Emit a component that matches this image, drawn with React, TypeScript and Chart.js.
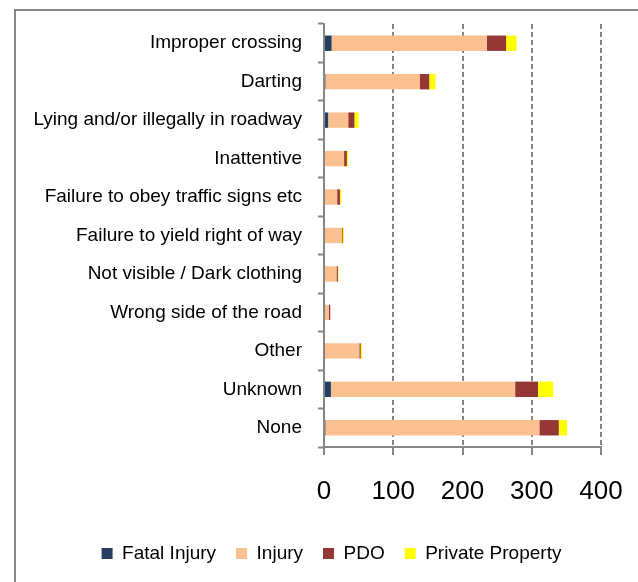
import React, { useEffect, useRef } from "react";
import { Chart, registerables } from "chart.js";

Chart.register(...registerables);

const categories = [
  "Improper crossing",
  "Darting",
  "Lying and/or illegally in roadway",
  "Inattentive",
  "Failure to obey traffic signs etc",
  "Failure to yield right of way",
  "Not visible / Dark clothing",
  "Wrong side of the road",
  "Other",
  "Unknown",
  "None",
];
const fatalInjury = [11, 2, 6, 0, 0, 0, 0, 0, 1, 10, 2];
const injury = [224, 136, 29, 29, 19, 26, 18, 7, 50, 266, 309];
const pdo = [28, 14, 9, 4, 4, 1, 2, 2, 2, 33, 28];
const privateProperty = [15, 9, 6, 2, 2, 2, 1, 0, 2, 22, 12];
const xTicks = [0, 100, 200, 300, 400];

const GRAY = "#868686";
const FONT = "'Liberation Sans', Arial, sans-serif";

const framePlugin = {
  id: "frame",
  beforeDraw(chart: any) {
    const ctx = chart.ctx;
    ctx.save();
    ctx.strokeStyle = GRAY;
    ctx.lineWidth = 2;
    ctx.strokeRect(15, 10, 700, 700);
    ctx.restore();
  },
};

const legendShiftPlugin = {
  id: "legendShift",
  afterLayout(chart: any) {
    if (chart.legend) {
      chart.legend.left = 62;
    }
  },
};

export default function App() {
  const ref = useRef<HTMLCanvasElement>(null);
  useEffect(() => {
    const chart = new Chart(ref.current!, {
      type: "bar",
      data: {
        labels: categories,
        datasets: [
          { label: "Fatal Injury", data: fatalInjury, backgroundColor: "#243F60" },
          { label: "Injury", data: injury, backgroundColor: "#FAC090" },
          { label: "PDO", data: pdo, backgroundColor: "#953735" },
          { label: "Private Property", data: privateProperty, backgroundColor: "#FFFF00" },
        ],
      },
      options: {
        indexAxis: "y",
        animation: false,
        responsive: false,
        datasets: { bar: { categoryPercentage: 1, barPercentage: 0.4 } },
        layout: { padding: { left: 0, right: 37, top: 24, bottom: 9 } },
        scales: {
          y: {
            stacked: true,
            afterFit: (s: any) => { s.width = 324; s.paddingTop = 0; s.paddingBottom = 0; },
            grid: {
              offset: true,
              drawOnChartArea: false,
              drawTicks: true,
              tickLength: 6,
              tickColor: GRAY,
              tickWidth: 2,
              color: GRAY,
            },
            border: { color: GRAY, width: 2 },
            ticks: { padding: 16, color: "#000", font: { family: FONT, size: 19 } },
          },
          x: {
            stacked: true,
            min: xTicks[0],
            max: xTicks[xTicks.length - 1],
            afterFit: (s: any) => { s.height = 77; s.paddingLeft = 0; s.paddingRight = 0; },
            afterBuildTicks: (s: any) => { s.ticks = xTicks.map((v) => ({ value: v })); },
            grid: {
              color: GRAY,
              lineWidth: 2,
              tickBorderDash: [],
              tickLength: 8,
              tickColor: GRAY,
              tickWidth: 2,
            },
            border: { color: GRAY, width: 2, dash: [5, 3] },
            ticks: { padding: 21, color: "#000", font: { family: FONT, size: 26 } },
          },
        },
        plugins: {
          legend: {
            position: "bottom",
            labels: {
              boxWidth: 11,
              boxHeight: 11,
              padding: 20,
              color: "#000",
              font: { family: FONT, size: 19 },
            },
          },
          tooltip: { enabled: false },
        },
      },
      plugins: [framePlugin, legendShiftPlugin],
    } as any);
    return () => chart.destroy();
  }, []);
  return (
    <div style={{ position: "fixed", left: 0, top: 0, width: 638, height: 582, background: "#fff" }}>
      <canvas ref={ref} width={638} height={582} style={{ width: 638, height: 582, display: "block" }} />
    </div>
  );
}
